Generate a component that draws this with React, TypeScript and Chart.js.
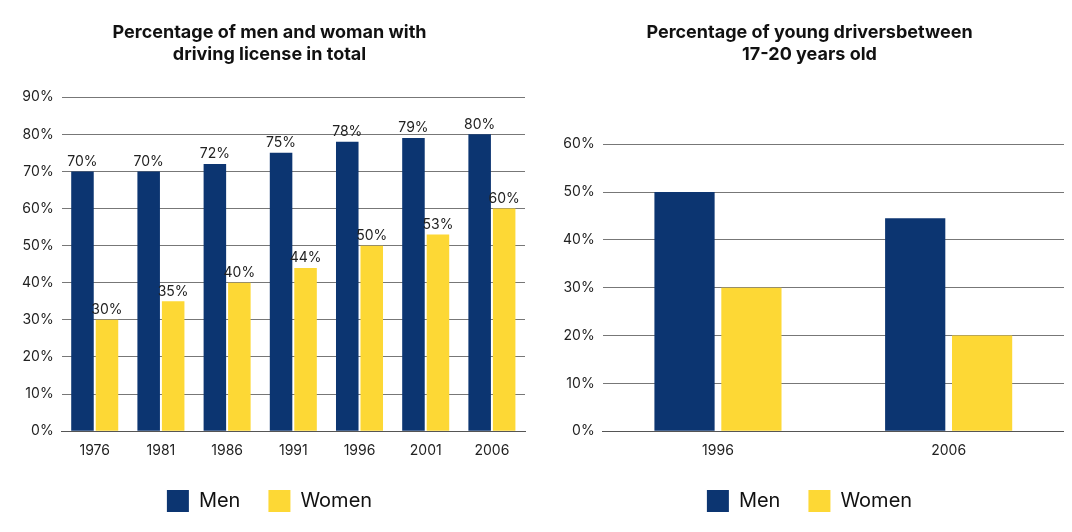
import React, { useEffect, useRef } from "react";
import { Chart, registerables } from "chart.js";
Chart.register(...registerables);

const years = ["1976", "1981", "1986", "1991", "1996", "2001", "2006"];
const menTotal = [70, 70, 72, 75, 78, 79, 80];
const womenTotal = [30, 35, 40, 44, 50, 53, 60];
const youngYears = ["1996", "2006"];
const menYoung = [50, 44.5];
const womenYoung = [30, 20];

const NAVY = "#0c3571";
const YELLOW = "#fdd835";
const FONT = "Inter";

const labelPlugin = {
  id: "vals",
  afterDatasetsDraw(chart: any) {
    if (!chart.options.plugins.vals?.show) return;
    const ctx = chart.ctx;
    ctx.save();
    ctx.font = `14px ${FONT}`;
    ctx.fillStyle = "#222";
    ctx.textAlign = "center";
    ctx.textBaseline = "bottom";
    chart.data.datasets.forEach((ds: any, i: number) => {
      chart.getDatasetMeta(i).data.forEach((bar: any, j: number) => {
        ctx.fillText(ds.data[j] + "%", bar.x, bar.y - 3);
      });
    });
    ctx.restore();
  },
};

function makeOptions(title: string[], max: number, showVals: boolean, catP: number, barP: number, padLeft: number, padRight: number, titleBottom: number) {
  return {
    responsive: false,
    animation: false as const,
    layout: { padding: { left: padLeft, right: padRight, top: 8, bottom: 8 } },
    datasets: { bar: { categoryPercentage: catP, barPercentage: barP } },
    plugins: {
      vals: { show: showVals },
      title: {
        display: true,
        text: title,
        color: "#111",
        font: { family: FONT, size: 18, weight: "bold" as const },
        padding: { top: 6, bottom: titleBottom },
      },
      legend: {
        position: "bottom" as const,
        labels: {
          boxWidth: 22,
          boxHeight: 22,
          padding: 28,
          color: "#111",
          font: { family: FONT, size: 20 },
        },
      },
      tooltip: { enabled: false },
    },
    scales: {
      x: {
        grid: { display: false },
        border: { color: "#555" },
        ticks: { color: "#222", font: { family: FONT, size: 14 } },
      },
      y: {
        min: 0,
        max,
        ticks: { stepSize: 10, color: "#222", font: { family: FONT, size: 14 }, padding: 8, callback: (v: any) => v + "%" },
        grid: { color: "#777", drawTicks: false },
        border: { display: false },
      },
    },
  } as any;
}

function BarChart(props: any) {
  const ref = useRef<HTMLCanvasElement>(null);
  useEffect(() => {
    const c = new Chart(ref.current!, {
      type: "bar",
      data: {
        labels: props.labels,
        datasets: [
          { label: "Men", data: props.men, backgroundColor: NAVY },
          { label: "Women", data: props.women, backgroundColor: YELLOW },
        ],
      },
      options: props.options,
      plugins: [labelPlugin],
    });
    return () => c.destroy();
  }, []);
  return <canvas ref={ref} width={props.w} height={522} style={{ position: "absolute", left: props.left, top: 0 }} />;
}

export default function App() {
  return (
    <div style={{ position: "relative", width: 1072, height: 532, background: "#fff" }}>
      <BarChart
        left={0}
        w={523}
        labels={years}
        men={menTotal}
        women={womenTotal}
        options={makeOptions(["Percentage of men and woman with", "driving license in total"], 90, true, 0.74, 0.92, 6, 6, 32)}
      />
      <BarChart
        left={541}
        w={531}
        labels={youngYears}
        men={menYoung}
        women={womenYoung}
        options={makeOptions(["Percentage of young driversbetween", "17-20 years old"], 60, false, 0.58, 0.9, 6, 16, 79)}
      />
    </div>
  );
}
